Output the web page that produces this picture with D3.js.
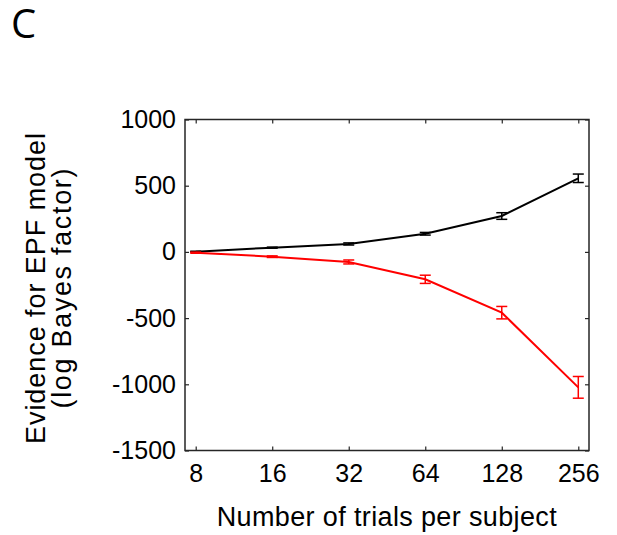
<!DOCTYPE html>
<meta charset="utf-8">
<style>
body { margin: 0; background: #fff; }
svg { font-family: "Liberation Sans", Arial, sans-serif; }
.axis .domain { display: none; }
.axis line { stroke: #262626; stroke-width: 1.2; }
.axis text { font-size: 25px; fill: #000; font-family: "Liberation Sans", Arial, sans-serif; }
</style>
<svg width="617" height="535" id="chart"></svg>
<script src="https://d3js.org/d3.v7.min.js"></script>
<script>
// data
var trials = [8, 16, 32, 64, 128, 256];
var blackMean = [2, 32, 60, 137, 271, 556];
var blackErr = [3, 4, 8, 10, 25, 32];
var redMean = [-6, -36, -76, -207, -459, -1023];
var redErr = [4, 6, 15, 31, 47, 82];
var yTicks = [-1500, -1000, -500, 0, 500, 1000];

var svg = d3.select("#chart"),
    plotLeft = 185, plotRight = 589, plotTop = 119.5, plotBottom = 450.5;

var x = d3.scaleLog().base(2)
    .domain([Math.pow(2, 2.86), Math.pow(2, 8.14)])
    .range([plotLeft, plotRight]);

var y = d3.scaleLinear()
    .domain([-1500, 1000])
    .range([plotBottom, plotTop]);

var plain = function(d) { return String(d); };

// panel letter
svg.append("text")
    .attr("x", 11)
    .attr("y", 38)
    .attr("font-family", "'Open Sans', sans-serif")
    .attr("font-size", 40)
    .text("C");

// axes (box style, ticks inside)
svg.append("g")
    .attr("class", "axis")
    .attr("transform", "translate(" + plotLeft + ",0)")
    .call(d3.axisLeft(y).tickValues(yTicks).tickSizeInner(-4).tickSizeOuter(0).tickPadding(9).tickFormat(plain));

svg.append("g")
    .attr("class", "axis")
    .attr("transform", "translate(" + plotRight + ",0)")
    .call(d3.axisRight(y).tickValues(yTicks).tickSizeInner(-4).tickSizeOuter(0).tickFormat(""));

svg.append("g")
    .attr("class", "axis")
    .attr("transform", "translate(0," + plotBottom + ")")
    .call(d3.axisBottom(x).tickValues(trials).tickSizeInner(-4).tickSizeOuter(0).tickPadding(13.5).tickFormat(plain));

svg.append("g")
    .attr("class", "axis")
    .attr("transform", "translate(0," + plotTop + ")")
    .call(d3.axisTop(x).tickValues(trials).tickSizeInner(-4).tickSizeOuter(0).tickFormat(""));

svg.append("rect")
    .attr("x", plotLeft)
    .attr("y", plotTop)
    .attr("width", plotRight - plotLeft)
    .attr("height", plotBottom - plotTop)
    .attr("fill", "none")
    .attr("stroke", "#262626")
    .attr("stroke-width", 1.5);

// series
function drawSeries(mean, err, color) {
  var pts = trials.map(function(t, i) { return {t: t, m: mean[i], e: err[i]}; });
  var line = d3.line()
      .x(function(d) { return x(d.t); })
      .y(function(d) { return y(d.m); });

  svg.append("path")
      .datum(pts)
      .attr("fill", "none")
      .attr("stroke", color)
      .attr("stroke-width", 2)
      .attr("d", line);

  var eb = svg.append("g").attr("stroke", color).attr("stroke-width", 1.5);
  eb.selectAll(null).data(pts).enter().append("line")
      .attr("x1", function(d) { return x(d.t); })
      .attr("x2", function(d) { return x(d.t); })
      .attr("y1", function(d) { return y(d.m - d.e); })
      .attr("y2", function(d) { return y(d.m + d.e); });
  eb.selectAll(null).data(pts).enter().append("line")
      .attr("x1", function(d) { return x(d.t) - 5.5; })
      .attr("x2", function(d) { return x(d.t) + 5.5; })
      .attr("y1", function(d) { return y(d.m + d.e); })
      .attr("y2", function(d) { return y(d.m + d.e); });
  eb.selectAll(null).data(pts).enter().append("line")
      .attr("x1", function(d) { return x(d.t) - 5.5; })
      .attr("x2", function(d) { return x(d.t) + 5.5; })
      .attr("y1", function(d) { return y(d.m - d.e); })
      .attr("y2", function(d) { return y(d.m - d.e); });
}

drawSeries(blackMean, blackErr, "#000");
drawSeries(redMean, redErr, "#ff0000");

// axis titles
svg.append("text")
    .attr("x", 386.7)
    .attr("y", 525.7)
    .attr("text-anchor", "middle")
    .attr("font-size", 27)
    .attr("textLength", 340)
    .attr("lengthAdjust", "spacing")
    .text("Number of trials per subject");

var yt = svg.append("g").attr("transform", "translate(0,288.5) rotate(-90)");
yt.append("text")
    .attr("x", 0)
    .attr("y", 45)
    .attr("text-anchor", "middle")
    .attr("font-size", 27)
    .attr("textLength", 311)
    .attr("lengthAdjust", "spacing")
    .text("Evidence for EPF model");
yt.append("text")
    .attr("x", 0)
    .attr("y", 71)
    .attr("text-anchor", "middle")
    .attr("font-size", 27)
    .attr("textLength", 240)
    .attr("lengthAdjust", "spacing")
    .text("(log Bayes factor)");
</script>
